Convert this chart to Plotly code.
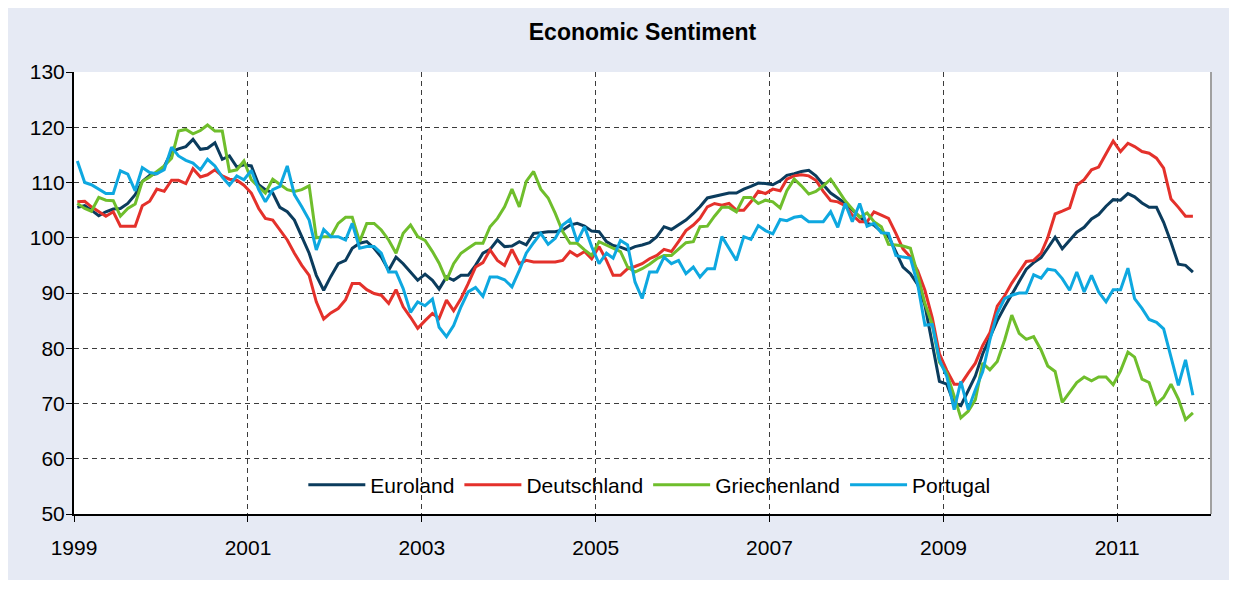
import plotly.graph_objects as go
import pandas as pd

# ---------------- data (monthly, Jan 1999 - Nov 2011) ----------------
start_month = "1999-01-01"
n_months = 155

euroland = [
    105.5, 105.8, 105.0, 104.0, 104.7, 105.2, 105.3, 106.2, 107.8, 110.2, 111.3, 111.6,
    112.9, 115.6, 116.1, 116.5, 117.8, 116.0, 116.2, 117.2, 114.2, 114.8, 112.8, 113.2,
    113.0, 109.6, 108.7, 108.1, 105.5, 104.7, 103.2, 100.2, 97.2, 93.2, 90.5, 93.0,
    95.3, 95.9, 98.1, 99.0, 99.3, 98.1, 96.5, 94.1, 96.5, 95.3, 93.8, 92.3,
    93.4, 92.3, 90.7, 92.9, 92.3, 93.2, 93.2, 95.0, 97.2, 97.9, 99.6, 98.4,
    98.5, 99.3, 98.7, 100.8, 100.9, 101.1, 101.1, 101.4, 102.3, 102.6, 102.1, 101.2,
    101.1, 99.3, 98.6, 98.3, 97.8, 98.4, 98.7, 99.1, 100.2, 102.0, 101.5, 102.3,
    103.2, 104.4, 105.6, 107.2, 107.5, 107.9, 108.1, 108.1, 108.8, 109.3, 109.9, 109.8,
    109.6, 110.3, 111.3, 111.6, 112.0, 112.2, 111.2, 109.6, 108.1, 107.2, 106.2, 105.0,
    103.8, 102.6, 102.3, 101.1, 100.3, 97.5, 94.7, 93.5, 91.5, 87.8, 81.0, 74.0,
    73.5, 70.0, 69.6, 72.5, 75.0, 79.0, 82.0, 85.0, 87.5, 89.7, 92.0, 94.3,
    95.5, 96.4, 98.1, 100.1, 98.0, 99.5, 101.0, 101.9, 103.4, 104.2, 105.7, 106.9,
    106.8, 108.0, 107.4, 106.3, 105.5, 105.5, 102.8, 99.2, 95.2, 95.0, 93.8,
]

deutschland = [
    106.5, 106.6, 105.6, 104.7, 103.9, 104.7, 102.1, 102.1, 102.1, 105.8, 106.6, 108.8,
    108.4, 110.4, 110.4, 109.8, 112.5, 111.0, 111.4, 112.3, 111.2, 110.6, 110.4, 109.5,
    108.1, 105.3, 103.5, 103.2, 101.4, 99.6, 97.2, 95.0, 93.2, 88.4, 85.3, 86.4,
    87.2, 88.8, 91.7, 91.7, 90.6, 89.9, 89.6, 88.1, 90.6, 87.5, 85.6, 83.6,
    85.0, 86.3, 85.4, 88.7, 86.8, 89.0, 91.7, 94.7, 95.5, 97.8, 95.9, 95.0,
    97.9, 95.3, 95.9, 95.6, 95.6, 95.6, 95.6, 95.9, 97.5, 96.7, 97.5, 96.2,
    98.4, 95.9, 93.2, 93.2, 94.4, 94.8, 95.3, 96.2, 96.8, 97.9, 97.5, 99.3,
    101.3, 102.3, 103.5, 105.6, 106.2, 105.9, 106.2, 105.0, 105.0, 106.5, 108.4, 108.0,
    108.8, 108.5, 110.6, 111.2, 111.4, 111.2, 110.4, 108.4, 106.7, 106.5, 105.8, 104.1,
    102.9, 102.9, 104.7, 104.1, 103.5, 100.8, 98.0, 96.5, 94.0, 90.5, 85.5, 79.0,
    76.0, 73.5, 73.5, 75.5, 77.3, 80.5, 82.8, 87.6, 89.5, 91.8, 93.8, 95.7,
    95.9, 97.2, 100.0, 104.3, 104.8, 105.4, 109.5, 110.5, 112.3, 112.8, 115.2, 117.5,
    115.6, 117.1, 116.5, 115.6, 115.3, 114.4, 112.6, 107.0, 105.5, 103.9, 103.9,
]

griechenland = [
    106.2, 105.3, 104.8, 107.3, 106.8, 106.7, 103.9, 105.3, 106.1, 110.2, 111.0, 112.0,
    113.0, 114.4, 119.3, 119.6, 118.8, 119.4, 120.4, 119.3, 119.3, 112.0, 112.3, 113.9,
    110.5, 109.2, 108.1, 110.6, 109.6, 108.7, 108.4, 108.7, 109.4, 100.0, 100.2, 100.2,
    102.6, 103.7, 103.7, 99.3, 102.6, 102.6, 101.4, 99.6, 97.2, 100.8, 102.3, 100.2,
    99.5, 97.5, 95.4, 92.3, 95.3, 97.2, 98.1, 99.0, 99.0, 102.0, 103.5, 105.6,
    108.8, 105.6, 110.2, 112.0, 108.8, 107.2, 104.4, 101.1, 99.0, 99.0, 97.8, 96.8,
    99.3, 98.7, 98.1, 97.5, 94.7, 93.8, 94.4, 95.2, 96.2, 96.8, 96.8, 97.9,
    99.1, 99.3, 102.0, 102.1, 103.9, 105.5, 105.5, 104.7, 107.3, 107.3, 106.2, 106.8,
    106.5, 105.4, 108.5, 110.6, 109.4, 107.9, 108.4, 109.4, 110.6, 108.7, 106.7, 105.2,
    103.7, 104.5, 102.9, 102.0, 98.8, 98.7, 98.5, 98.1, 93.3, 88.1, 84.3, 77.5,
    75.5, 71.3, 67.4, 68.6, 70.7, 77.3, 76.1, 77.6, 81.5, 86.0, 82.7, 81.6,
    82.1, 79.7, 76.8, 75.8, 70.2, 72.0, 73.8, 74.8, 74.1, 74.8, 74.8, 73.4,
    75.9, 79.3, 78.4, 74.4, 73.8, 69.9, 71.1, 73.5, 70.8, 67.1, 68.3,
]

portugal = [
    113.9, 110.0, 109.6, 108.8, 108.0, 108.0, 112.1, 111.5, 108.5, 112.7, 111.8, 111.6,
    112.3, 116.4, 114.8, 114.0, 113.5, 112.3, 114.2, 113.0, 111.0, 109.5, 111.2, 110.5,
    112.2, 108.7, 106.5, 108.7, 109.3, 113.0, 107.8, 105.6, 103.2, 97.8, 101.5, 100.2,
    100.2, 99.6, 102.6, 98.1, 98.4, 98.4, 97.2, 93.8, 93.8, 90.8, 86.5, 88.4,
    87.7, 88.9, 83.8, 82.1, 84.1, 87.5, 90.2, 91.0, 89.4, 92.9, 92.9, 92.4,
    91.1, 94.1, 97.2, 99.1, 100.8, 98.8, 99.9, 102.3, 103.3, 99.3, 102.0, 98.4,
    95.3, 97.2, 96.3, 99.5, 98.7, 92.0, 89.0, 93.8, 93.8, 96.5, 95.3, 95.9,
    93.5, 94.7, 92.9, 94.4, 94.4, 100.2, 98.1, 95.9, 100.2, 99.7, 102.2, 101.3,
    100.7, 103.3, 103.1, 103.7, 103.9, 102.9, 102.9, 102.9, 104.7, 101.9, 106.2, 102.9,
    106.2, 102.1, 102.6, 100.9, 100.8, 96.8, 96.5, 96.3, 91.5, 84.2, 84.3, 77.9,
    74.9, 68.9, 74.0, 68.9, 72.5, 75.8, 81.5, 86.3, 89.0, 89.6, 90.0, 90.0,
    93.3, 92.7, 94.3, 94.1, 92.6, 90.5, 93.8, 90.2, 93.2, 90.2, 88.4, 90.6,
    90.6, 94.5, 89.0, 87.2, 85.2, 84.7, 83.5, 78.4, 73.3, 77.9, 71.5,
]

series_names = ["Euroland", "Deutschland", "Griechenland", "Portugal"]
series_values = [euroland, deutschland, griechenland, portugal]
series_colors = ["#0B3C5D", "#E4312B", "#6FBE2C", "#0EA8E0"]

year_ticks = ["1999", "2001", "2003", "2005", "2007", "2009", "2011"]

months = pd.date_range(start_month, periods=n_months, freq="MS") + pd.Timedelta(days=14)

# ---------------- figure ----------------
FONT = "Arial, Liberation Sans, sans-serif"
fig = go.Figure()
for name, vals, col in zip(series_names, series_values, series_colors):
    fig.add_trace(go.Scatter(x=months, y=vals, mode="lines", name=name,
                             line=dict(color=col, width=3)))

# page has an 8px body margin; figure placed at (8, 8) of the window
OFF = 8
W, H = 1229, 572
L, T = 74 - OFF, 72 - OFF
R = W - (1211 - OFF)
B = H - (514 - OFF)
pw, ph = W - L - R, H - T - B

def ref_y(py):
    """window pixel row -> paper y"""
    return (H - B - (py - OFF)) / ph

grid_kw = dict(showgrid=True, gridcolor="#3C3C3C", gridwidth=1, griddash="5px,4px")

fig.update_layout(
    width=W, height=H, autosize=False,
    margin=dict(l=L, r=R, t=T, b=B, pad=0),
    paper_bgcolor="#E6EAF4",
    plot_bgcolor="#FFFFFF",
    font=dict(family=FONT, color="#000000", size=20),
    title=dict(text="<b>Economic Sentiment</b>", x=0.5, xref="paper", xanchor="center",
               y=1 - (32 - OFF) / H, yref="container", yanchor="middle",
               font=dict(family=FONT, size=23, color="#000000")),
    showlegend=True,
    legend=dict(orientation="h", x=0.506, xanchor="center", y=ref_y(485), yanchor="middle",
                bgcolor="rgba(0,0,0,0)", font=dict(family=FONT, size=21, color="#000000"),
                itemwidth=57, traceorder="normal"),
    xaxis=dict(type="date", range=["1999-01-01", "2012-01-30"],
               tickmode="array", tickvals=[f"{y}-01-01" for y in year_ticks], ticktext=year_ticks,
               ticks="outside", ticklen=6, tickwidth=1, tickcolor="#000000",
               showline=True, linecolor="#000000", linewidth=2,
               tickfont=dict(family=FONT, size=21, color="#000000"),
               ticklabelstandoff=8, zeroline=False, **grid_kw),
    yaxis=dict(range=[50, 130], tickmode="linear", tick0=50, dtick=10,
               ticks="outside", ticklen=6, tickwidth=1, tickcolor="#000000",
               showline=True, linecolor="#000000", linewidth=2,
               tickfont=dict(family=FONT, size=21, color="#000000"),
               ticklabelstandoff=-3, zeroline=False, **grid_kw),
    shapes=[
        # right border of plot area
        dict(type="line", xref="paper", yref="paper", x0=1, x1=1, y0=0, y1=1,
             line=dict(color="#A0A0A0", width=2), layer="above"),
    ],
)

fig.write_html("out.html")
